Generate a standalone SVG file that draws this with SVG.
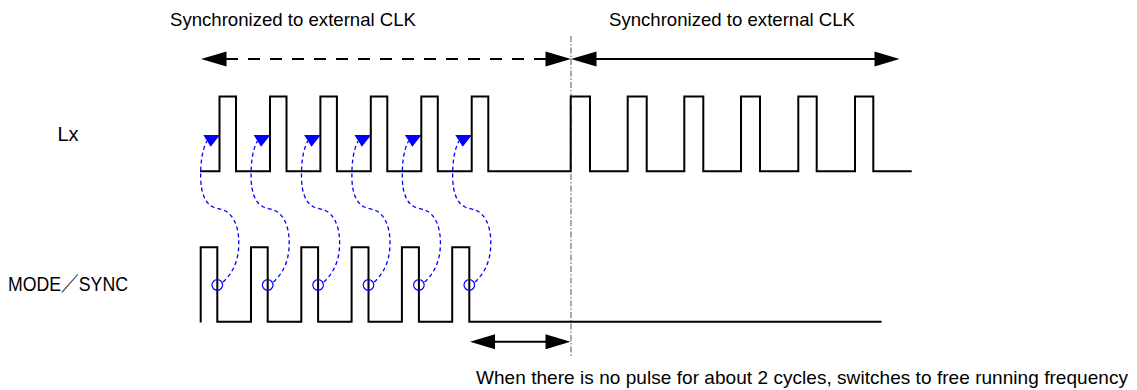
<svg xmlns="http://www.w3.org/2000/svg" xmlns:xlink="http://www.w3.org/1999/xlink" width="1137" height="390" viewBox="0 0 1137 390">
<style>
.txt{font-family:"Liberation Sans","Noto Sans CJK JP",Arial,sans-serif;fill:#000}
.wave{fill:none;stroke:#000;stroke-width:2;stroke-linejoin:miter}
.arr{stroke:#000;stroke-width:2;fill:none}
.dash{stroke-dasharray:12 10}
.head{fill:#000;stroke:none}
.blue{fill:none;stroke:#0000ff;stroke-width:1.3;stroke-dasharray:4 3}
.bhead{fill:#0000ff;stroke:none}
.circ{fill:none;stroke:#0000ff;stroke-width:1.2}
.guide{stroke:#555;stroke-width:1;stroke-dasharray:6 2 1.5 2;fill:none}
</style>
<defs>
<g id="sync-link">
<path class="blue" d="M223,282 C232,274 238,262 238.7,247 C239.5,232 236,220 229,213.5 C224,209 218,209 213,207 C205,203 201,193 200.7,178 C200.5,163 202,150 207,141"/>
<polygon class="bhead" points="220,135 203.3,135 210.7,146.7"/>
<circle class="circ" cx="217.3" cy="285" r="5.3"/>
</g>
</defs>
<rect width="1137" height="390" fill="#fff"/>

<g id="labels">
<text class="txt" x="170" y="26" font-size="18.6">Synchronized to external CLK</text>
<text class="txt" x="609" y="26" font-size="18.6">Synchronized to external CLK</text>
<text class="txt" x="57.5" y="141" font-size="20">Lx</text>
<text class="txt" x="8" y="291" font-size="20" textLength="120" lengthAdjust="spacingAndGlyphs">MODE／SYNC</text>
<text class="txt" x="476" y="384" font-size="19" textLength="652" lengthAdjust="spacing">When there is no pulse for about 2 cycles, switches to free running frequency</text>
</g>

<g id="guide-line">
<line class="guide" x1="571" y1="36" x2="571" y2="357"/>
</g>

<g id="lx-wave">
<path class="wave" d="M200,171.3 H219.5 V96.5 H236 V171.3 H270 V96.5 H286.5 V171.3 H320.4 V96.5 H336.9 V171.3 H370.8 V96.5 H387.3 V171.3 H421.3 V96.5 H437.8 V171.3 H471.7 V96.5 H488.3 V171.3 H570.7 V96.5 H590 V171.3 H627.7 V96.5 H646.7 V171.3 H684.3 V96.5 H703.3 V171.3 H741 V96.5 H760 V171.3 H798.3 V96.5 H816.7 V171.3 H855 V96.5 H873.3 V171.3 H911.7"/>
</g>

<g id="mode-sync-wave">
<path class="wave" d="M200.7,322.5 V247.3 H217.3 V321.7 H251 V247.3 H267.7 V321.7 H301.3 V247.3 H318.1 V321.7 H351.6 V247.3 H368.5 V321.7 H401.9 V247.3 H418.9 V321.7 H452.2 V247.3 H469.3 V321.7 H881.5"/>
</g>

<g id="connectors">
<g id="span-dashed">
<line class="arr dash" x1="226" y1="59" x2="546" y2="59"/>
<polygon class="head" points="201,59 226.5,51.5 226.5,66.5"/>
<polygon class="head" points="571,59 545.5,51.5 545.5,66.5"/>
</g>
<g id="span-solid">
<line class="arr" x1="596" y1="59" x2="875" y2="59"/>
<polygon class="head" points="571,59 596.5,51.5 596.5,66.5"/>
<polygon class="head" points="899.5,59 874.5,51.5 874.5,66.5"/>
</g>
<g id="span-gap">
<line class="arr" x1="494" y1="341.7" x2="546" y2="341.7"/>
<polygon class="head" points="470,341.7 495,334.2 495,349.2"/>
<polygon class="head" points="570.5,341.7 545.5,334.2 545.5,349.2"/>
</g>
<g id="sync-links">
<use xlink:href="#sync-link" href="#sync-link"/>
<use xlink:href="#sync-link" href="#sync-link" transform="translate(50.4,0)"/>
<use xlink:href="#sync-link" href="#sync-link" transform="translate(100.8,0)"/>
<use xlink:href="#sync-link" href="#sync-link" transform="translate(151.2,0)"/>
<use xlink:href="#sync-link" href="#sync-link" transform="translate(201.6,0)"/>
<use xlink:href="#sync-link" href="#sync-link" transform="translate(252,0)"/>
</g>
</g>
</svg>
